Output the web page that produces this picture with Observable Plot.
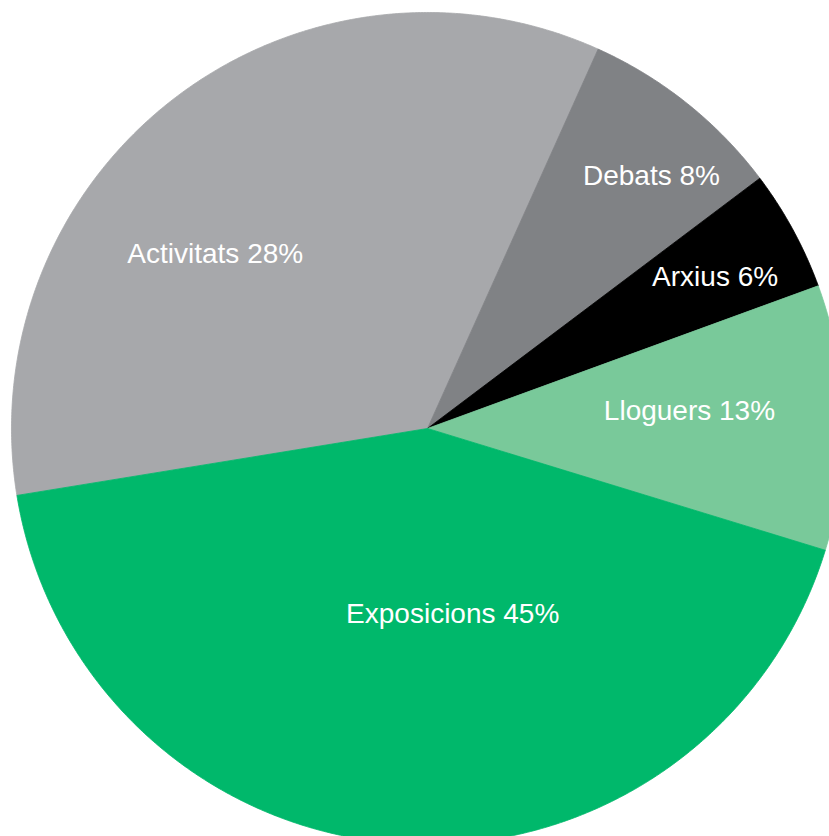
<!DOCTYPE html>
<html>
<head>
<meta charset="utf-8">
<script src="https://cdn.jsdelivr.net/npm/d3@7"></script>
<script src="https://cdn.jsdelivr.net/npm/@observablehq/plot@0.6"></script>
<style>
  html, body { margin: 0; padding: 0; background: #fff; overflow: hidden; }
  #chart svg { display: block; }
</style>
</head>
<body>
<div id="chart"></div>
<script>
// Data
const categories = ["Activitats", "Debats", "Arxius", "Lloguers", "Exposicions"];
const shares = [34.3, 8.0, 4.7, 10.3, 42.7];          // measured slice sizes (%)
const labelPct = ["28%", "8%", "6%", "13%", "45%"];     // printed labels

// Styles / layout (kept apart from the data)
const colors = ["#a7a8ab", "#808285", "#000000", "#79c99a", "#00b86b"];
const startDeg = -99.26;                                 // where the first slice begins (clockwise from top)
const labelAngleShift = [-13.0, 2.9, 0.8, -2.2, -11.6];  // degrees from slice middle
const labelRadius = [0.661, 0.812, 0.781, 0.631, 0.451]; // fraction of pie radius

const rad = Math.PI / 180;
const start = startDeg * rad;
const arcs = d3.pie().sort(null).value(d => d).startAngle(start).endAngle(start + 2 * Math.PI)(shares);

// wedge outlines in unit-circle coordinates (y up)
const wedgePts = [];
arcs.forEach((a, i) => {
  const cat = categories[i];
  wedgePts.push({cat, x: 0, y: 0});
  const n = Math.max(2, Math.ceil((a.endAngle - a.startAngle) / (0.4 * rad)));
  for (let k = 0; k <= n; k++) {
    const t = a.startAngle + (a.endAngle - a.startAngle) * k / n;
    wedgePts.push({cat, x: Math.sin(t), y: Math.cos(t)});
  }
  wedgePts.push({cat, x: 0, y: 0});
});

const labels = arcs.map((a, i) => {
  const t = (a.startAngle + a.endAngle) / 2 + labelAngleShift[i] * rad;
  const r = labelRadius[i];
  return {text: `${categories[i]} ${labelPct[i]}`, x: r * Math.sin(t), y: r * Math.cos(t)};
});

const W = 829, H = 836;
const chart = Plot.plot({
  width: W,
  height: H,
  margin: 0,
  x: {domain: [-1.0264, 0.9663], axis: null},
  y: {domain: [-0.9808, 1.0288], axis: null},
  color: {domain: categories, range: colors},
  style: {background: "#fff", fontFamily: "'Liberation Sans', Arial, Helvetica, sans-serif"},
  marks: [
    Plot.line(wedgePts, {x: "x", y: "y", z: "cat", fill: "cat", stroke: "cat", strokeWidth: 0.8, curve: "linear", clip: true}),
    Plot.text(labels, {x: "x", y: "y", text: "text", fill: "#fff", fontSize: 28, textAnchor: "middle",
      fontFamily: "'Liberation Sans', Arial, Helvetica, sans-serif"})
  ]
});
document.getElementById("chart").appendChild(chart);
</script>
</body>
</html>
